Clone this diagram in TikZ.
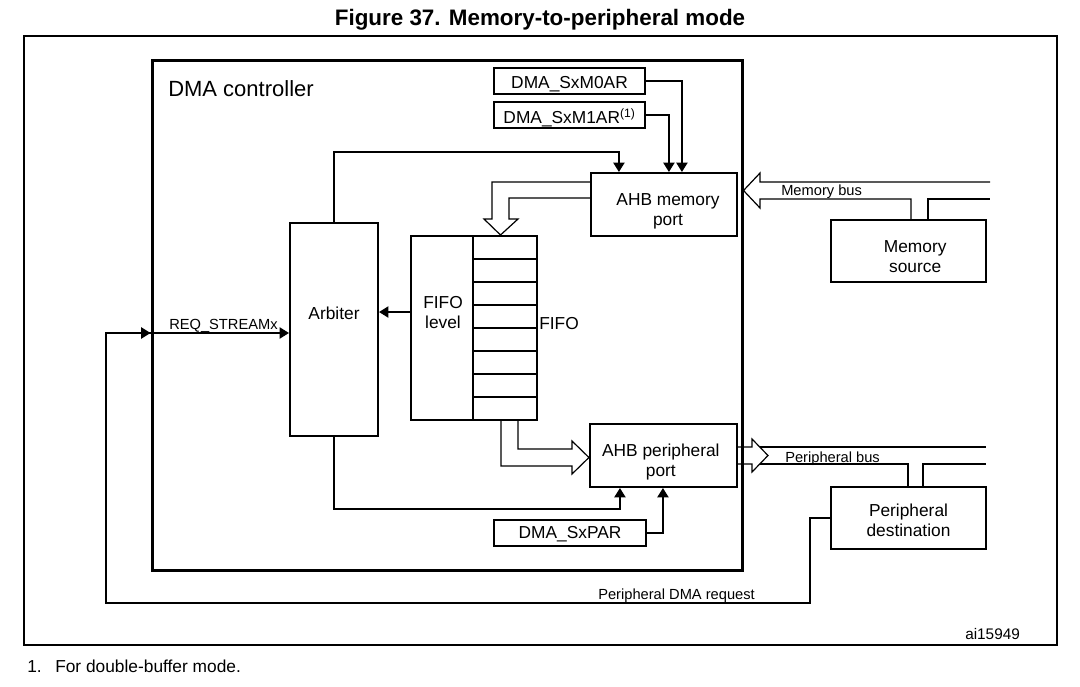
\documentclass[tikz,border=0pt]{standalone}
\usepackage{fontspec}
\setmainfont{Liberation Sans}
\usetikzlibrary{arrows.meta,calc}
\begin{document}
\begin{tikzpicture}[x=0.75pt,y=-0.75pt,
  box/.style={draw, line width=1.6pt, inner sep=0pt, align=center, font=\fontsize{13}{15}\selectfont},
  lbl/.style={inner sep=0pt, font=\fontsize{11}{13}\selectfont},
  txt/.style={inner sep=0pt, align=center, font=\fontsize{13}{15}\selectfont},
  conn/.style={line width=0.9pt},
  arr/.style={conn, -{Triangle[length=7pt,width=8.5pt]}},
  hollow/.style={line width=0.9pt, line join=miter}]
\useasboundingbox (0,0) rectangle (1080,686);

\node[font=\bfseries\fontsize{16.8}{20}\selectfont, inner sep=0pt, anchor=base] (title) at (540,25.5) {Figure 37. Memory-to-peripheral mode};
\node[draw, line width=1.5pt, minimum width=774.75pt, minimum height=456.75pt, inner sep=0pt] (frame) at (540.5,340.5) {};
\node[draw, line width=2.25pt, minimum width=442.5pt, minimum height=382.5pt, inner sep=0pt] (dma) at (447,315) {};
\node[anchor=west, inner sep=0pt, font=\fontsize{16.5}{19}\selectfont] (dmat) at (168,89) {DMA controller};

\node[box, minimum width=113.25pt, minimum height=19.5pt,
  label={[txt,yshift=-2.6pt]center:DMA\_SxM0AR}] (m0) at (569.5,81) {};
\node[box, minimum width=113.25pt, minimum height=19.5pt,
  label={[txt,yshift=-2.2pt]center:{DMA\_SxM1AR\textsuperscript{(1)}}}] (m1) at (569.5,115) {};
\node[box, minimum width=109.5pt, minimum height=47.25pt,
  label={[txt,xshift=3pt,yshift=-5pt]center:{AHB memory\\port}}] (mport) at (664,204.5) {};
\node[box, minimum width=66pt, minimum height=159.75pt] (arb) at (334,329.5) {};
\node[txt] (arbt) at (334,313) {Arbiter};
\node[box, minimum width=46.5pt, minimum height=138pt] (fl) at (442,328) {};
\node[txt] (flt) at (443,313) {FIFO\\level};
\foreach \i in {0,...,7}
  \node[box, minimum width=48pt, minimum height=17.25pt] (c\i) at (505,{247.5+23*\i}) {};
\node[txt] (fifot) at (559,324) {FIFO};
\node[box, minimum width=110.25pt, minimum height=47.25pt,
  label={[txt,xshift=-2pt,yshift=-5pt]center:{AHB peripheral\\port}}] (pport) at (663.5,455.5) {};
\node[box, minimum width=114pt, minimum height=19.5pt,
  label={[txt,yshift=-1.2pt]center:DMA\_SxPAR}] (par) at (570,533) {};
\node[box, minimum width=116.25pt, minimum height=46.5pt,
  label={[txt,xshift=5pt,yshift=-4pt]center:{Memory\\source}}] (msrc) at (908.5,251) {};
\node[box, minimum width=116.25pt, minimum height=46.5pt,
  label={[txt,yshift=-1.5pt]center:{Peripheral\\destination}}] (pdst) at (908.5,518) {};

% register connectors
\draw[arr] (m0.east) -| ($(mport.north west)+(92,0)$);
\draw[arr] (m1.east) -| ($(mport.north west)+(79,0)$);
\draw[arr] (arb.north) -- ++(0,-70) -| ($(mport.north west)+(29,0)$);
\draw[arr] ([yshift=12pt]fl.west) -- ([yshift=12pt]fl.west -| arb.east);
\draw[arr] (arb.south) -- ++(0,72) -| ($(pport.south west)+(31,0)$);
\draw[arr] (par.east) -| ($(pport.south west)+(74,0)$);

% request line
\coordinate (rqa) at (810,603);
\coordinate (rqb) at (106,603);
\coordinate (arbin) at ($(arb.west)+(0,3.5)$);
\draw[arr] (pdst.west) -| (rqa) -- (rqb) |- (arbin);
\draw[arr] (rqb |- arbin) -- (dma.west |- arbin);

% hollow arrows
\draw[hollow] (mport.west |- 0,182) -- (492,182) -- (492,219) -- (484,219) -- (500.5,235) -- (518,219) -- (509,219) -- (509,198) -- (mport.west |- 0,198);
\draw[hollow] (501,0 |- c7.south) -- (501,466) -- (572,466) -- (572,474) -- (pport.west |- 0,457.5) -- (572,441) -- (572,449) -- (518,449) -- (518,0 |- c7.south);
\draw[hollow] (990,182) -- (760,182) -- (760,173) -- (dma.east |- 0,190.5) -- (760,208) -- (760,199) -- (911,199) -- (911,0 |- msrc.north);
\draw[conn] (928,0 |- msrc.north) -- (928,199) -- (990,199);
\draw[hollow] (pport.east |- 0,447) -- (752,447) -- (752,439) -- (768,455.5) -- (752,472) -- (752,464) -- (pport.east |- 0,464);
\draw[conn] (760,447) -- (986,447);
\draw[conn] (760,464) -- (908,464) -- (908,0 |- pdst.north);
\draw[conn] (923,0 |- pdst.north) -- (923,464) -- (986,464);

% labels
\node[lbl, anchor=base west] (reqt) at (169,329) {REQ\_STREAMx};
\node[lbl, anchor=base west] (pdrt) at (598,599) {Peripheral DMA request};
\node[lbl, anchor=base west] (mbt) at (781,195) {Memory bus};
\node[lbl, anchor=base west] (pbt) at (785,462) {Peripheral bus};
\node[lbl, anchor=base west, font=\fontsize{11.5}{13}\selectfont] (ai) at (965,639) {ai15949};
\node[txt, anchor=base west] (fn1) at (27,672) {1.};
\node[txt, anchor=base west] (fn2) at (55,672) {For double-buffer mode.};
\end{tikzpicture}
\end{document}
